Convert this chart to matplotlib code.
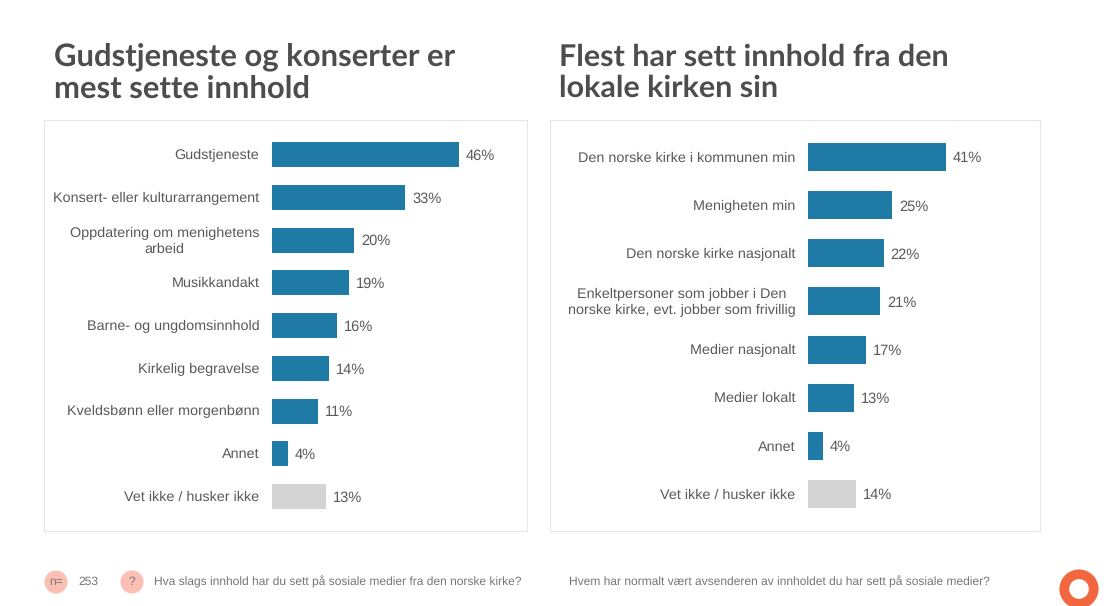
import matplotlib
matplotlib.use('Agg')
import matplotlib.pyplot as plt
from matplotlib.patches import Circle

W, H = 1109, 606

left_labels = ['Gudstjeneste', 'Konsert- eller kulturarrangement', 'Oppdatering om menighetens\narbeid',
               'Musikkandakt', 'Barne- og ungdomsinnhold', 'Kirkelig begravelse',
               'Kveldsbønn eller morgenbønn', 'Annet', 'Vet ikke / husker ikke']
# unrounded shares, printed as whole percents
left_values = [45.8, 32.6, 20.1, 18.9, 15.9, 14.0, 11.3, 3.9, 13.2]

right_labels = ['Den norske kirke i kommunen min', 'Menigheten min', 'Den norske kirke nasjonalt',
                'Enkeltpersoner som jobber i Den\nnorske kirke, evt. jobber som frivillig',
                'Medier nasjonalt', 'Medier lokalt', 'Annet', 'Vet ikke / husker ikke']
right_values = [40.6, 24.7, 22.3, 21.2, 17.1, 13.4, 4.3, 14.2]

left_title = 'Gudstjeneste og konserter er\nmest sette innhold'
right_title = 'Flest har sett innhold fra den\nlokale kirken sin'
left_question = 'Hva slags innhold har du sett på sosiale medier fra den norske kirke?'
right_question = 'Hvem har normalt vært avsenderen av innholdet du har sett på sosiale medier?'
n_resp = '253'

BLUE = '#1f7ba5'
GREY = '#d4d4d4'
TEXT = '#595959'
FOOT = '#767676'

plt.rcParams['font.family'] = ['Liberation Sans', 'DejaVu Sans']
plt.rcParams['text.hinting'] = 'no_hinting'
plt.rcParams['text.hinting_factor'] = 8

fig = plt.figure(figsize=(W / 100, H / 100), dpi=100, facecolor='white')


def panel(box, x0, px_per_pct, y0, step, bar_h, labels, values):
    # box is left, top, right, bottom in pixels
    l, t, r, b = box
    ax = fig.add_axes([l / W, 1 - b / H, (r - l) / W, (b - t) / H])
    ax.set_xlim((l - x0) / px_per_pct, (r - x0) / px_per_pct)
    ax.set_ylim((b - y0) / step, (t - y0) / step)
    ypos = list(range(len(values)))
    colors = [BLUE] * (len(values) - 1) + [GREY]
    ax.barh(ypos, values, height=bar_h / step, color=colors)
    ax.set_xticks([])
    ax.set_yticks([])
    for s in ax.spines.values():
        s.set_color('#e6e6e6')
        s.set_linewidth(0.8)
    for y, lab, v in zip(ypos, labels, values):
        ax.annotate(lab, (0, y), xytext=(-9, -0.7), textcoords='offset points', ha='right', va='center',
                    ma='center', fontsize=10.35, color=TEXT, linespacing=1.25)
        ax.annotate('%.0f%%' % v, (v, y), xytext=(5, -1), textcoords='offset points', ha='left', va='center',
                    fontsize=10.5, color=TEXT)
    return ax


panel((44, 120, 527, 531), 272, 4.08, 154.5, 42.75, 25, left_labels, left_values)
panel((550, 120, 1040, 531), 808, 3.4, 157, 48.14, 28, right_labels, right_values)

# overlay in pixel coordinates for titles and footer
over = fig.add_axes([0, 0, 1, 1], facecolor='none')
over.set_xlim(0, W)
over.set_ylim(H, 0)
over.axis('off')

over.text(54, 72.5, left_title, fontsize=22.3, fontweight='bold', family=['Lato', 'DejaVu Sans'], color='#4d4d4d',
          va='center', ha='left', linespacing=1.14)
over.text(559, 72.5, right_title, fontsize=21.95, fontweight='bold', family=['Lato', 'DejaVu Sans'], color='#4d4d4d',
          va='center', ha='left', linespacing=1.16)

for cx, s in [(56, 'n='), (132, '?')]:
    over.add_patch(Circle((cx, 582), 11.5, color='#fbbfb3', lw=0))
    over.text(cx, 582, s, fontsize=8.65, color=FOOT, ha='center', va='center')
over.text(78, 582, n_resp, fontsize=8.65, color=FOOT, va='center')
over.text(154, 582, left_question, fontsize=8.65, color=FOOT, va='center')
over.text(569, 582, right_question, fontsize=8.65, color=FOOT, va='center')

# logo ring
over.add_patch(Circle((1079, 589), 14.7, fill=False, ec='#f2673f', lw=7.0))

fig.savefig('out.png', dpi=100)
